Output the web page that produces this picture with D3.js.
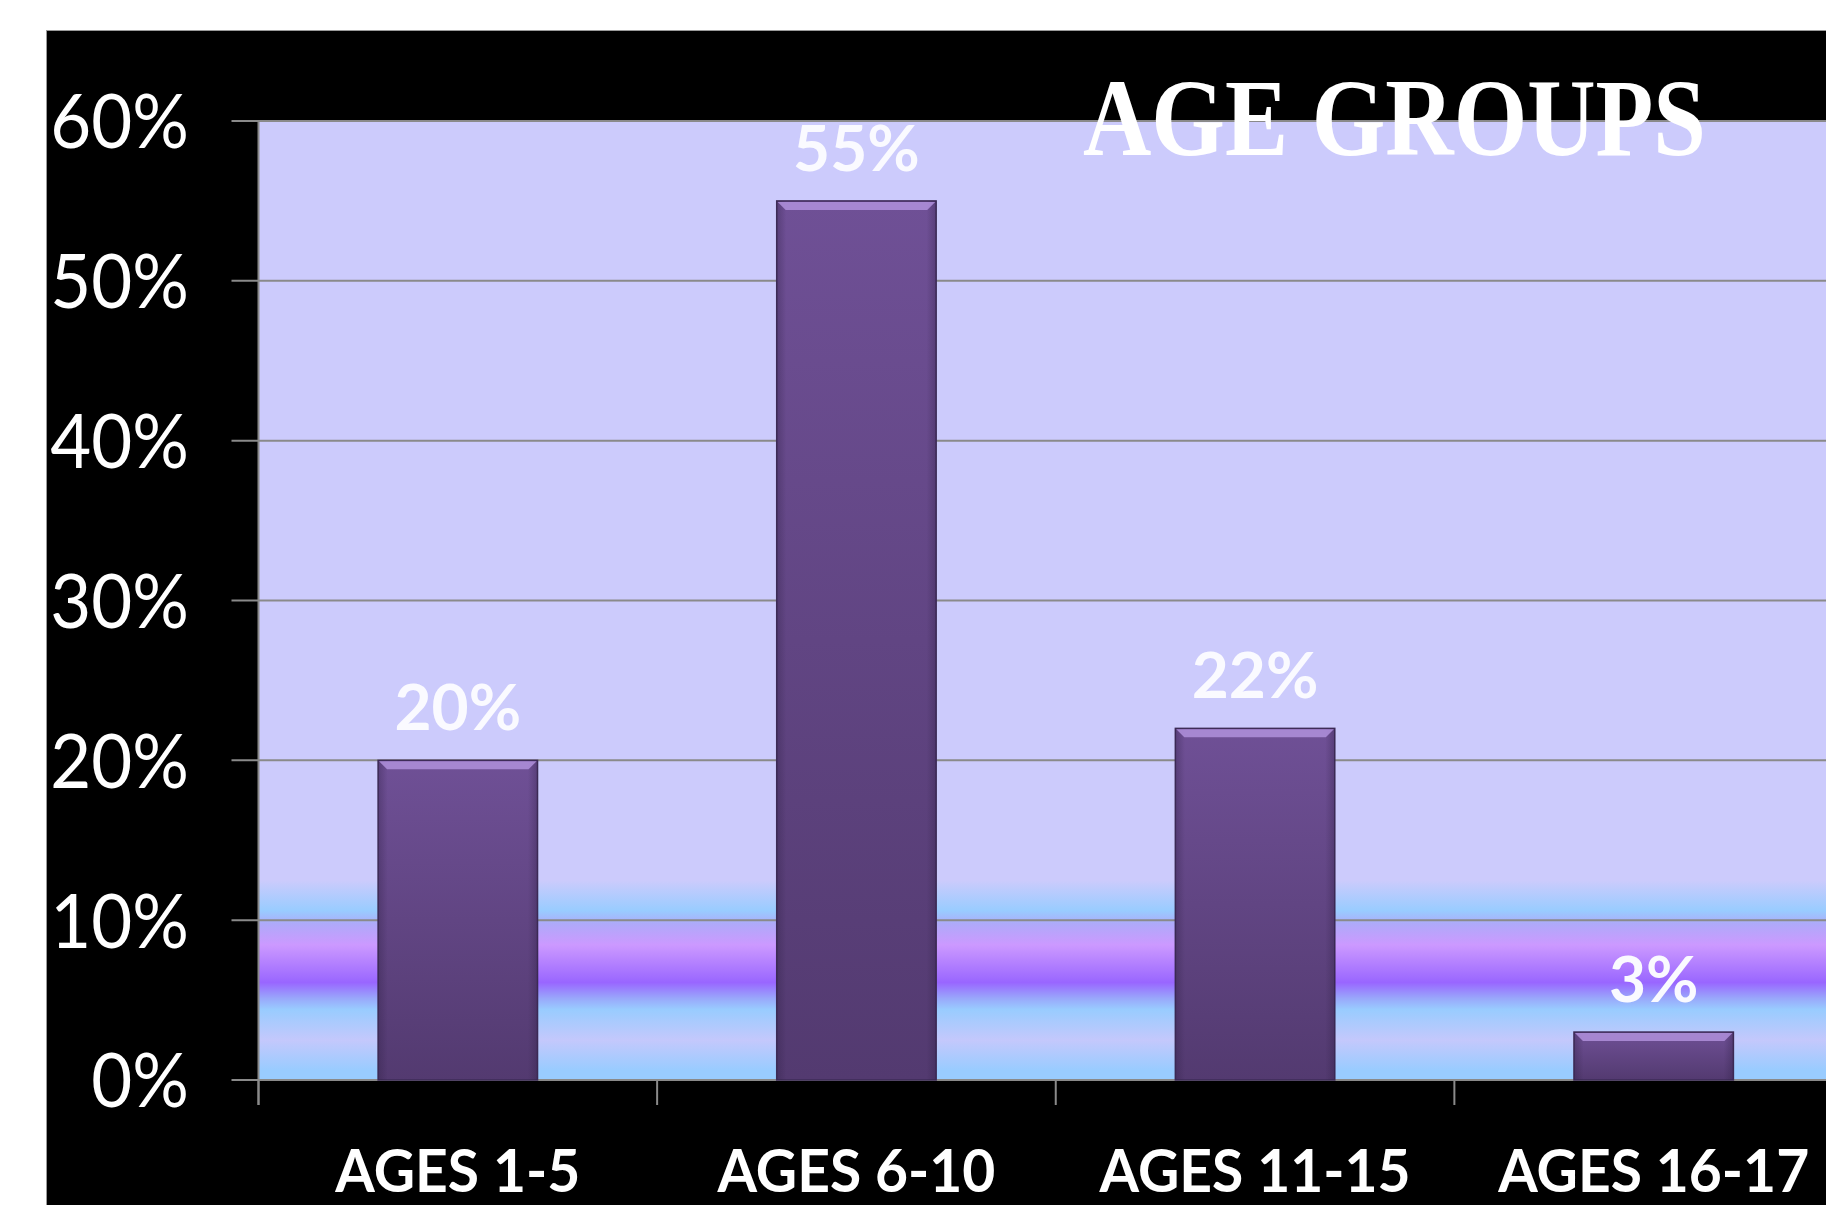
<!DOCTYPE html>
<html>
<head>
<meta charset="utf-8">
<script src="https://d3js.org/d3.v7.min.js"></script>
<style>
  body { margin: 0; background: white; }
  svg { display: block; }
</style>
</head>
<body>
<div id="chart"></div>
<script>
  const categories = ["AGES 1-5", "AGES 6-10", "AGES 11-15", "AGES 16-17"];
  const values = [20, 55, 22, 3];
  const yTicks = [0, 10, 20, 30, 40, 50, 60];
  const tickLabels = ["0%", "10%", "20%", "30%", "40%", "50%", "60%"];
  const valueLabels = ["20%", "55%", "22%", "3%"];
  const title = "AGE GROUPS";

  // plot background bands near the bottom (value, colour)
  const bgStops = [
    [60, "#cccbfc"], [12.5, "#cccbfc"], [10.6, "#99ccff"], [10.2, "#a2bcfc"],
    [9.8, "#aeaaf9"], [8.45, "#cc99ff"], [6.1, "#9966ff"], [5.1, "#99a8fb"],
    [4.4, "#99ccff"], [2.5, "#c4c8fc"], [0.6, "#99ccff"], [0, "#99ccff"]
  ];

  const W = 1826, H = 1205;
  const plotLeft = 258.5, plotRight = 1853, plotTop = 121, plotBottom = 1080;

  const svg = d3.select('#chart')
    .append('svg')
    .attr('width', W)
    .attr('height', H);

  const x = d3.scaleBand()
    .domain(categories)
    .range([plotLeft, plotRight])
    .paddingInner(0.6)
    .paddingOuter(0.3);

  const y = d3.scaleLinear()
    .domain([0, 60])
    .range([plotBottom, plotTop]);

  const defs = svg.append('defs');

  const bg = defs.append('linearGradient')
    .attr('id', 'bg')
    .attr('gradientUnits', 'userSpaceOnUse')
    .attr('x1', 0).attr('x2', 0)
    .attr('y1', y(60)).attr('y2', y(0));
  bg.selectAll('stop')
    .data(bgStops)
    .enter()
    .append('stop')
    .attr('offset', d => (y(d[0]) - y(60)) / (y(0) - y(60)))
    .attr('stop-color', d => d[1]);

  const barGrad = defs.append('linearGradient')
    .attr('id', 'bar')
    .attr('x1', 0).attr('x2', 0).attr('y1', 0).attr('y2', 1);
  barGrad.append('stop').attr('offset', 0).attr('stop-color', '#6f5096');
  barGrad.append('stop').attr('offset', 1).attr('stop-color', '#533a70');

  const sideGrad = defs.append('linearGradient')
    .attr('id', 'side')
    .attr('x1', 0).attr('x2', 1).attr('y1', 0).attr('y2', 0);
  sideGrad.append('stop').attr('offset', 0).attr('stop-color', '#2e1f45').attr('stop-opacity', 0.35);
  sideGrad.append('stop').attr('offset', 0.06).attr('stop-color', '#2e1f45').attr('stop-opacity', 0);
  sideGrad.append('stop').attr('offset', 0.94).attr('stop-color', '#2e1f45').attr('stop-opacity', 0);
  sideGrad.append('stop').attr('offset', 1).attr('stop-color', '#2e1f45').attr('stop-opacity', 0.35);

  // black panel
  svg.append('rect')
    .attr('x', 46.5).attr('y', 30.5)
    .attr('width', W).attr('height', H)
    .attr('fill', 'black')
    .attr('stroke', '#9a9a9a')
    .attr('stroke-width', 1);

  // plot area
  svg.append('rect')
    .attr('x', plotLeft).attr('y', y(60))
    .attr('width', plotRight - plotLeft)
    .attr('height', y(0) - y(60))
    .attr('fill', 'url(#bg)');

  // gridlines + tick marks
  svg.selectAll('.grid')
    .data(yTicks)
    .enter()
    .append('line')
    .attr('class', 'grid')
    .attr('x1', plotLeft - 27).attr('x2', W)
    .attr('y1', d => y(d)).attr('y2', d => y(d))
    .attr('stroke', '#8a8a8a')
    .attr('stroke-width', 2);

  svg.append('line')
    .attr('x1', plotLeft).attr('x2', plotLeft)
    .attr('y1', y(60)).attr('y2', y(0) + 25)
    .attr('stroke', '#8a8a8a')
    .attr('stroke-width', 2);

  // category boundary ticks
  svg.selectAll('.xtick')
    .data(categories)
    .enter()
    .append('line')
    .attr('class', 'xtick')
    .attr('x1', d => x(d) - x.step() * x.paddingOuter())
    .attr('x2', d => x(d) - x.step() * x.paddingOuter())
    .attr('y1', y(0)).attr('y2', y(0) + 25)
    .attr('stroke', '#8a8a8a')
    .attr('stroke-width', 2);

  // y tick labels
  svg.selectAll('.ylab')
    .data(yTicks)
    .enter()
    .append('text')
    .attr('class', 'ylab')
    .attr('transform', d => `translate(189, ${y(d)}) scale(0.93, 1)`)
    .attr('dy', '0.36em')
    .attr('text-anchor', 'end')
    .attr('fill', 'white')
    .style('font-family', 'Lato, "Open Sans", sans-serif')
    .style('font-size', '76px')
    .text((d, i) => tickLabels[i]);

  // bars
  const bars = svg.selectAll('.bar')
    .data(values)
    .enter()
    .append('g')
    .attr('class', 'bar');

  bars.append('rect')
    .attr('x', (d, i) => x(categories[i]))
    .attr('y', d => y(d))
    .attr('width', x.bandwidth())
    .attr('height', d => y(0) - y(d))
    .attr('fill', 'url(#bar)')
    .attr('stroke', '#3e2c58')
    .attr('stroke-width', 1.5);

  bars.append('rect')
    .attr('x', (d, i) => x(categories[i]))
    .attr('y', d => y(d))
    .attr('width', x.bandwidth())
    .attr('height', d => y(0) - y(d))
    .attr('fill', 'url(#side)');

  bars.append('path')
    .attr('d', (d, i) => {
      const x0 = x(categories[i]), x1 = x0 + x.bandwidth(), t = y(d);
      return `M${x0 + 1},${t + 1}L${x1 - 1},${t + 1}L${x1 - 9},${t + 9}L${x0 + 9},${t + 9}Z`;
    })
    .attr('fill', '#b090dc')
    .attr('opacity', 0.85);

  // value labels
  svg.selectAll('.vlab')
    .data(values)
    .enter()
    .append('text')
    .attr('class', 'vlab')
    .attr('x', (d, i) => x(categories[i]) + x.bandwidth() / 2)
    .attr('y', d => y(d) - 30)
    .attr('text-anchor', 'middle')
    .attr('fill', '#fafaff')
    .style('font-family', 'Lato, "Open Sans", sans-serif')
    .style('font-weight', 'bold')
    .style('font-size', '64px')
    .text((d, i) => valueLabels[i]);

  // category labels
  svg.selectAll('.xlab')
    .data(categories)
    .enter()
    .append('text')
    .attr('class', 'xlab')
    .attr('transform', d => `translate(${x(d) + x.bandwidth() / 2}, 1192) scale(0.95, 1)`)
    .attr('text-anchor', 'middle')
    .attr('fill', 'white')
    .style('font-family', 'Lato, "Open Sans", sans-serif')
    .style('font-weight', 'bold')
    .style('font-size', '60px')
    .text(d => d);

  // title
  svg.append('text')
    .attr('x', 1394.5)
    .attr('y', 155)
    .attr('text-anchor', 'middle')
    .attr('textLength', 623)
    .attr('lengthAdjust', 'spacingAndGlyphs')
    .attr('fill', 'white')
    .style('font-family', '"Liberation Serif", "DejaVu Serif", serif')
    .style('font-weight', 'bold')
    .style('font-size', '110px')
    .text(title);
</script>
</body>
</html>
